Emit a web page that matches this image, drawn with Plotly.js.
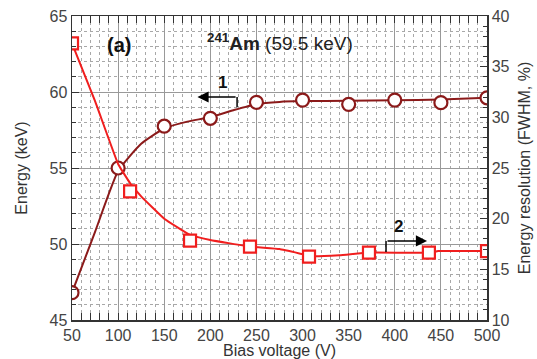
<!DOCTYPE html>
<html>
<head>
<meta charset="utf-8">
<script src="https://cdn.plot.ly/plotly-3.0.1.min.js"></script>
<style>html,body{margin:0;padding:0;background:#fff;}#chart{width:537px;height:359px;}</style>
</head>
<body>
<div id="chart"></div>
<script>
// Curve 1: peak energy (left axis), circles
const biasE = [50, 100, 150, 200, 250, 300, 350, 400, 450, 500];
const energy = [46.8, 55.0, 57.75, 58.27, 59.32, 59.47, 59.19, 59.47, 59.3, 59.62];
// fitted line for curve 1
const fitBiasE = [50, 75, 100, 125, 150, 175, 200, 225, 250, 275, 300, 350, 400, 450, 500];
const fitEnergy = [46.8, 50.8, 54.8, 56.6, 57.6, 58.05, 58.35, 58.8, 59.2, 59.35, 59.4, 59.42, 59.45, 59.5, 59.62];
// Curve 2: energy resolution (right axis), squares
const biasR = [50, 113, 178, 243, 307, 372, 437, 500];
const resolution = [37.3, 22.7, 17.83, 17.24, 16.25, 16.64, 16.64, 16.8];
// fitted line for curve 2
const fitBiasR = [50, 75, 100, 113, 125, 150, 178, 200, 243, 275, 300, 310, 340, 372, 440, 447, 500];
const fitResolution = [37.3, 31.6, 25.4, 23.5, 22.2, 20.0, 18.4, 17.9, 17.24, 17.0, 16.5, 16.3, 16.4, 16.65, 16.65, 16.8, 16.8];

const xTicks = [50, 100, 150, 200, 250, 300, 350, 400, 450, 500];

const darkRed = '#8b1a1a';
const red = '#f01e1e';

const traces = [
  {x: fitBiasE, y: fitEnergy, mode: 'lines', line: {color: darkRed, width: 2, shape: 'spline', smoothing: 0.5}, hoverinfo: 'skip', showlegend: false},
  {x: fitBiasR, y: fitResolution, yaxis: 'y2', mode: 'lines', line: {color: red, width: 2, shape: 'spline', smoothing: 0.3}, hoverinfo: 'skip', showlegend: false},
  {x: biasE, y: energy, mode: 'markers', marker: {symbol: 'circle', size: 13, color: 'white', line: {color: darkRed, width: 2.2}}, showlegend: false},
  {x: biasR, y: resolution, yaxis: 'y2', mode: 'markers', marker: {symbol: 'square', size: 12, color: 'white', line: {color: red, width: 2.2}}, showlegend: false}
];

const tickFont = {family: 'Liberation Sans, Arial, sans-serif', size: 16, color: '#444'};
const titleFont = {family: 'Liberation Sans, Arial, sans-serif', size: 16, color: '#333'};

const layout = {
  width: 537, height: 359,
  margin: {l: 72, r: 50, t: 16, b: 39},
  paper_bgcolor: 'white', plot_bgcolor: 'white',
  showlegend: false,
  xaxis: {
    range: [50, 500], tickvals: xTicks, ticktext: xTicks.map(String),
    ticks: 'inside', ticklen: 7, tickcolor: '#333', showline: true, linecolor: '#333', linewidth: 1.5,
    mirror: 'allticks', showgrid: true, gridcolor: '#999', gridwidth: 1, zeroline: false,
    tickfont: tickFont,
    minor: {dtick: 10, tick0: 50, ticks: 'inside', ticklen: 4, tickcolor: '#333', showgrid: true, gridcolor: '#a8a8a8', griddash: 'dot', gridwidth: 1},
    title: {text: 'Bias voltage (V)', font: titleFont, standoff: 0}
  },
  yaxis: {
    range: [45, 65], dtick: 5, tick0: 45,
    ticks: 'inside', ticklen: 7, tickcolor: '#333', showline: true, linecolor: '#333', linewidth: 1.5,
    showgrid: true, gridcolor: '#999', gridwidth: 1, zeroline: false,
    tickfont: tickFont,
    minor: {dtick: 1, tick0: 45, ticks: 'inside', ticklen: 4, tickcolor: '#333', showgrid: true, gridcolor: '#a8a8a8', griddash: 'dot', gridwidth: 1},
    title: {text: 'Energy (keV)', font: titleFont, standoff: 18}
  },
  yaxis2: {
    overlaying: 'y', side: 'right', range: [10, 40], dtick: 5, tick0: 10,
    ticks: 'inside', ticklen: 7, tickcolor: '#333', showline: true, linecolor: '#333', linewidth: 1.5,
    showgrid: false, zeroline: false, tickfont: tickFont,
    minor: {dtick: 1, tick0: 10, ticks: 'inside', ticklen: 4, tickcolor: '#333', showgrid: false},
    title: {text: 'Energy resolution (FWHM, %)', font: titleFont, standoff: 10}
  },
  shapes: [
    {type: 'line', xref: 'x', yref: 'y', x0: 229, x1: 229, y0: 59.67, y1: 59.0, line: {color: 'black', width: 1.5}},
    {type: 'line', xref: 'x', yref: 'y2', x0: 390.5, x1: 390.5, y0: 16.7, y1: 17.8, line: {color: 'black', width: 1.5}}
  ],
  annotations: [
    {xref: 'x', yref: 'y', x: 186, y: 59.67, ax: 229, ay: 59.67, axref: 'x', ayref: 'y', showarrow: true, arrowhead: 2, arrowsize: 1.4, arrowwidth: 1.6, arrowcolor: 'black', text: ''},
    {xref: 'x', yref: 'y2', x: 435, y: 17.8, ax: 390.5, ay: 17.8, axref: 'x', ayref: 'y2', showarrow: true, arrowhead: 2, arrowsize: 1.4, arrowwidth: 1.6, arrowcolor: 'black', text: ''},
    {xref: 'x', yref: 'y', x: 213, y: 60.6, text: '<b>1</b>', showarrow: false, font: {family: 'Liberation Sans, Arial, sans-serif', size: 17, color: '#111'}},
    {xref: 'x', yref: 'y2', x: 404.5, y: 19.2, text: '<b>2</b>', showarrow: false, font: {family: 'Liberation Sans, Arial, sans-serif', size: 17, color: '#111'}},
    {xref: 'x', yref: 'y', x: 101, y: 63.1, text: '<b>(a)</b>', showarrow: false, font: {family: 'Liberation Sans, Arial, sans-serif', size: 20, color: '#111'}},
    {xref: 'x', yref: 'y', x: 276, y: 63.3, text: '<b><sup>241</sup>Am</b> (59.5 keV)', showarrow: false, font: {family: 'Liberation Sans, Arial, sans-serif', size: 19, color: '#222'}}
  ]
};

Plotly.newPlot('chart', traces, layout, {staticPlot: true, displayModeBar: false});
</script>
</body>
</html>
